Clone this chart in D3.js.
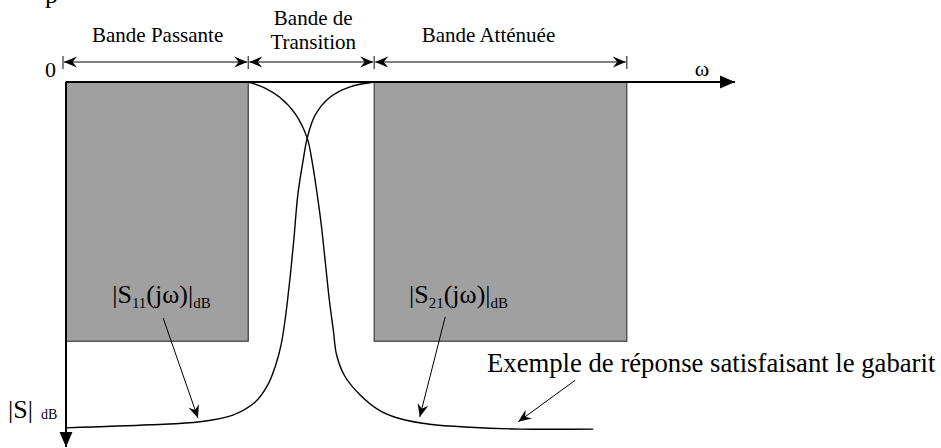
<!DOCTYPE html>
<html>
<head>
<meta charset="utf-8">
<script src="https://cdn.jsdelivr.net/npm/d3@7"></script>
<style>
  body { margin: 0; background: #fff; }
  text { font-family: "Liberation Serif", "Times New Roman", serif; fill: #000; }
</style>
</head>
<body>
<script>
let w = 941;
let h = 448;

// band edges along omega (arbitrary units) and mask depth (dB)
let bandEdges = [0, 27.2, 46.0, 83.7];
let bandLabels = [["Bande Passante"], ["Bande de", "Transition"], ["Bande Atténuée"]];
let maskDepth = 42.5;

// |S11| (omega, dB below 0)
let s11W  = [0, 12.5, 20.0, 24.9, 28.2, 30.1, 31.3, 32.1, 32.7, 33.4, 34.0, 34.6, 35.4, 36.0, 37.2, 39.4, 42.4, 46.0];
let s11Db = [56.7, 56.2, 55.7, 54.6, 52.5, 49.7, 46.4, 43.1, 39.0, 32.5, 25.9, 18.5, 12.8, 9.2, 5.4, 2.5, 0.8, 0];

// |S21|
let s21W  = [27.2, 29.7, 31.9, 34.2, 36.0, 36.7, 37.5, 38.1, 38.7, 39.3, 39.9, 40.4, 41.6, 43.9, 46.9, 49.9, 54.3, 60.3, 67.8, 78.7];
let s21Db = [0, 1.0, 2.5, 5.2, 9.2, 12.8, 18.5, 23.4, 29.5, 35.7, 40.7, 44.8, 48.2, 51.3, 53.9, 55.2, 56.1, 56.6, 56.9, 56.9];

let x = d3.scaleLinear().domain([0, 100]).range([66, 736]);
let y = d3.scaleLinear().domain([0, 60]).range([82, 448]);

let svg = d3.select("body")
            .append("svg")
            .attr("width", w)
            .attr("height", h);

let defs = svg.append("defs");
// barbed arrow head
defs.append("marker")
    .attr("id", "barb")
    .attr("viewBox", "-14 -7 15 14")
    .attr("refX", 0).attr("refY", 0)
    .attr("markerWidth", 15).attr("markerHeight", 14)
    .attr("markerUnits", "userSpaceOnUse")
    .attr("orient", "auto-start-reverse")
  .append("path")
    .attr("d", "M0,0 L-13,-5.5 L-8.5,0 L-13,5.5 Z")
    .attr("fill", "#000");
// solid triangle for the axes
defs.append("marker")
    .attr("id", "tri")
    .attr("viewBox", "-16 -8 17 16")
    .attr("refX", 0).attr("refY", 0)
    .attr("markerWidth", 17).attr("markerHeight", 16)
    .attr("markerUnits", "userSpaceOnUse")
    .attr("orient", "auto")
  .append("path")
    .attr("d", "M0,0 L-15,-6.5 L-15,6.5 Z")
    .attr("fill", "#000");

// letter cut off at the very top (as in the original scan)
svg.append("text").attr("x", 45).attr("y", 3).attr("font-size", 26).text("p");

// mask rectangles (passband / stopband)
let masks = [[bandEdges[0], bandEdges[1]], [bandEdges[2], bandEdges[3]]];
svg.selectAll("rect.mask")
  .data(masks)
  .enter()
  .append("rect")
    .attr("class", "mask")
    .attr("x", d => x(d[0]))
    .attr("y", y(0))
    .attr("width", d => x(d[1]) - x(d[0]))
    .attr("height", y(maskDepth) - y(0))
    .attr("fill", "#a0a0a0")
    .attr("stroke", "#3c3c3c")
    .attr("stroke-width", 1.2);

// axes
svg.append("line")
    .attr("x1", x(0)).attr("y1", y(0))
    .attr("x2", x(100) - 1).attr("y2", y(0))
    .attr("stroke", "#000").attr("stroke-width", 2)
    .attr("marker-end", "url(#tri)");
svg.append("line")
    .attr("x1", x(0)).attr("y1", y(0))
    .attr("x2", x(0)).attr("y2", y(60) - 1)
    .attr("stroke", "#000").attr("stroke-width", 2)
    .attr("marker-end", "url(#tri)");

// band dimension line
let dimY = 62;
let edgePx = bandEdges.map((d, i) => i == 0 ? x(d) - 3 : x(d));
svg.selectAll("line.seg")
  .data(d3.pairs(edgePx))
  .enter()
  .append("line")
    .attr("class", "seg")
    .attr("x1", d => d[0] + 1).attr("x2", d => d[1] - 1)
    .attr("y1", dimY).attr("y2", dimY)
    .attr("stroke", "#808080").attr("stroke-width", 2)
    .attr("marker-start", "url(#barb)")
    .attr("marker-end", "url(#barb)");
svg.selectAll("line.tick")
  .data(edgePx)
  .enter()
  .append("line")
    .attr("class", "tick")
    .attr("x1", d => d).attr("x2", d => d)
    .attr("y1", dimY - 6).attr("y2", dimY + 7)
    .attr("stroke", "#333").attr("stroke-width", 1.2);

// band labels
let labelX = [(edgePx[0] + edgePx[1]) / 2 + 2, (edgePx[1] + edgePx[2]) / 2 + 2, (edgePx[2] + edgePx[3]) / 2 - 12];
bandLabels.forEach((lines, i) => {
  let base = lines.length == 1 ? [42] : [25, 49];
  lines.forEach((t, j) => {
    svg.append("text")
      .attr("x", labelX[i]).attr("y", base[j])
      .attr("text-anchor", "middle")
      .attr("font-size", 21)
      .text(t);
  });
});

// axis labels
svg.append("text").attr("x", 45).attr("y", 77).attr("font-size", 22).text("0");
svg.append("text").attr("x", 702).attr("y", 76).attr("text-anchor", "middle").attr("font-size", 22).text("ω");
let sLab = svg.append("text").attr("x", 8).attr("y", 418).attr("font-size", 26);
sLab.append("tspan").text("|S|");
sLab.append("tspan").attr("font-size", 14).attr("dx", 8).attr("dy", 1).text("dB");

// response curves
let line = d3.line()
  .x(d => x(d[0]))
  .y(d => y(d[1]))
  .curve(d3.curveCatmullRom.alpha(0.5));

svg.append("path")
    .attr("d", line(d3.zip(s11W, s11Db)))
    .attr("fill", "none").attr("stroke", "#000").attr("stroke-width", 1.4);
svg.append("path")
    .attr("d", line(d3.zip(s21W, s21Db)))
    .attr("fill", "none").attr("stroke", "#000").attr("stroke-width", 1.4);

// curve labels inside the mask
function sLabel(px, py, sub) {
  let t = svg.append("text").attr("x", x(px)).attr("y", y(py)).attr("font-size", 26);
  t.append("tspan").text("|S");
  t.append("tspan").attr("font-size", 15).attr("dy", 5).text(sub);
  t.append("tspan").attr("dy", -5).text("(jω)|");
  t.append("tspan").attr("font-size", 15).attr("dy", 5).text("dB");
}
sLabel(6.9, 36.2, "11");
sLabel(51.2, 36.2, "21");

// pointer arrows
let pointers = [
  [[14.5, 38.7], [19.7, 55.1]],
  [[56.6, 38.5], [52.8, 54.9]],
  [[76.0, 48.9], [67.5, 55.7]]
];
svg.selectAll("line.ptr")
  .data(pointers)
  .enter()
  .append("line")
    .attr("class", "ptr")
    .attr("x1", d => x(d[0][0])).attr("y1", d => y(d[0][1]))
    .attr("x2", d => x(d[1][0])).attr("y2", d => y(d[1][1]))
    .attr("stroke", "#000").attr("stroke-width", 1)
    .attr("marker-end", "url(#barb)");

svg.append("text")
    .attr("x", 487).attr("y", 372)
    .attr("font-size", 26.7)
    .text("Exemple de réponse satisfaisant le gabarit");
</script>
</body>
</html>
